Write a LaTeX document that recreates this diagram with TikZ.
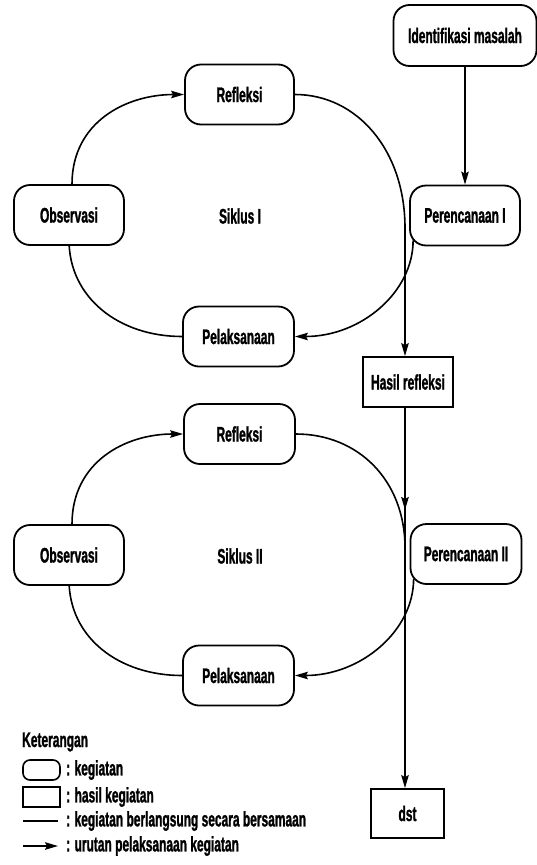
\documentclass[tikz,border=0pt]{standalone}
\usepackage{fontspec}
\setmainfont{Liberation Sans}[FakeStretch=0.57,FakeBold=1.2]
\usetikzlibrary{arrows.meta,backgrounds}
\begin{document}
\begin{tikzpicture}[x=1pt,y=-1pt,
  every node/.style={font=\fontsize{21}{25}\selectfont\bfseries},
  act/.style={draw, line width=1.8pt, rounded corners=16pt, fill=white, minimum width=110pt, minimum height=60pt, inner sep=0pt},
  res/.style={draw, line width=1.8pt, fill=white, inner sep=0pt},
  con/.style={line width=1.6pt},
  arr/.style={con, -{Stealth[length=13pt,width=7.5pt,inset=2pt]}},
  thinarr/.style={line width=1.1pt, -{Stealth[length=13pt,width=7.5pt,inset=2pt]}},
  lbl/.style={anchor=west, inner sep=0pt}]
\useasboundingbox (0,0) rectangle (537,865);
\coordinate (col) at (405,0);

\node[act, minimum width=143pt, minimum height=61pt] (ident) at (465,35.5) {Identifikasi masalah};
\node[act, minimum width=109pt] (refl1) at (239.5,94.5) {Refleksi};
\node[act] (obs1) at (69,215) {Observasi};
\node (sik1) at (240,216) {Siklus I};
\node[act] (per1) at (465,215.5) {Perencanaan I};
\node[act, minimum width=111pt] (pel1) at (238.5,336.5) {Pelaksanaan};
\node[res, minimum width=90pt, minimum height=50pt] (hasil) at (408,382) {Hasil refleksi};
\node[act, minimum width=111pt] (refl2) at (239.5,434) {Refleksi};
\node[act] (obs2) at (69,555) {Observasi};
\node (sik2) at (240,556) {Siklus II};
\node[act, minimum width=111pt] (per2) at (466,554) {Perencanaan II};
\node[act, minimum width=111pt] (pel2) at (238.5,675.5) {Pelaksanaan};
\node[res, minimum width=73pt, minimum height=49pt] (dst) at (407.5,813.5) {dst};

\begin{scope}[on background layer]
  % cycle I
  \draw[arr] ([xshift=3pt]obs1.north) .. controls +(0,-62) and +(-58,0) .. (refl1.west);
  \draw[arr] (refl1.east) .. controls +(62,0) and (405,150) .. (405,228) -- (hasil.north -| col);
  \draw[arr] ([xshift=4pt,yshift=6pt]per1.south west) .. controls +(0,52) and +(66,0) .. (pel1.east);
  \draw[con] ([yshift=6pt]obs1.south) .. controls +(0,58) and +(-63,0) .. (pel1.west);
  \draw[thinarr] (ident) -- (per1);
  % cycle II
  \draw[arr] ([xshift=3pt]obs2.north) .. controls +(0,-62) and +(-58,0) .. (refl2.west);
  \draw[con] (refl2.east) .. controls +(62,0) and (405,480) .. (405,548);
  \draw[arr] (hasil.south -| col) -- (405,510);
  \draw[arr] (405,505) -- (dst.north -| col);
  \draw[arr] ([xshift=4pt,yshift=6pt]per2.south west) .. controls +(0,52) and +(66,0) .. (pel2.east);
  \draw[con] ([yshift=6pt]obs2.south) .. controls +(0,58) and +(-63,0) .. (pel2.west);
\end{scope}

% legend
\node[lbl] (ket) at (22,742) {Keterangan};
\node[draw, line width=1.6pt, rounded corners=7pt, minimum width=37pt, minimum height=20pt, inner sep=0pt] (lg1) at (41.5,770) {};
\node[draw, line width=1.6pt, minimum width=37pt, minimum height=20pt, inner sep=0pt] (lg2) at (41.5,797) {};
\coordinate (l3a) at (23,821); \coordinate (l3b) at (58,821);
\coordinate (l4a) at (23,846); \coordinate (l4b) at (58,846);
\draw[con] (l3a) -- (l3b);
\draw[arr] (l4a) -- (l4b);
\node[lbl] (t1) at (66,770) {: kegiatan};
\node[lbl] (t2) at (66,797) {: hasil kegiatan};
\node[lbl] (t3) at (66,821) {: kegiatan berlangsung secara bersamaan};
\node[lbl] (t4) at (66,846) {: urutan pelaksanaan kegiatan};
\end{tikzpicture}
\end{document}
